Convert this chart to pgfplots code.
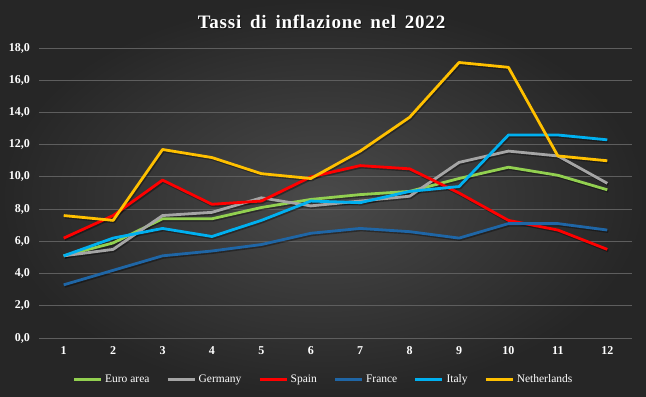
\documentclass[border=0pt]{standalone}
\usepackage{pgfplots}
\pgfplotsset{compat=1.18}
\usepackage{fontspec}
\setmainfont{Liberation Serif}
\newfontfamily\titlefont[LetterSpace=4.0, WordSpace=1.6]{Liberation Serif}
\definecolor{bgin}{HTML}{4A4A4A}
\definecolor{bgout}{HTML}{262626}
\definecolor{gridc}{HTML}{5E5E5E}
\definecolor{cEuro}{HTML}{92D050}
\definecolor{cGer}{HTML}{A5A5A5}
\definecolor{cSpa}{HTML}{FF0000}
\definecolor{cFra}{HTML}{1F66A6}
\definecolor{cIta}{HTML}{00B0F0}
\definecolor{cNed}{HTML}{FFC000}
\pgfplotstableread{
m euro ger spa fra ita ned
1 5.1 5.1 6.2 3.3 5.1 7.6
2 5.9 5.5 7.6 4.2 6.2 7.3
3 7.4 7.6 9.8 5.1 6.8 11.7
4 7.4 7.8 8.3 5.4 6.3 11.2
5 8.1 8.7 8.5 5.8 7.3 10.2
6 8.6 8.2 10.0 6.5 8.5 9.9
7 8.9 8.5 10.7 6.8 8.4 11.6
8 9.1 8.8 10.5 6.6 9.1 13.7
9 9.9 10.9 9.0 6.2 9.4 17.1
10 10.6 11.6 7.3 7.1 12.6 16.8
11 10.1 11.3 6.7 7.1 12.6 11.3
12 9.2 9.6 5.5 6.7 12.3 11.0
}\datatable
\begin{document}
\begin{tikzpicture}
\shade[inner color=bgin, outer color=bgout] (-39bp,-59bp) rectangle (607bp,338bp);
\node[text=black, opacity=0.5, font=\fontsize{19bp}{21bp}\titlefont\bfseries] at (283.5bp,315bp) {Tassi di inflazione nel 2022};
\node[text=white, font=\fontsize{19bp}{21bp}\titlefont\bfseries] at (282.5bp,316bp) {Tassi di inflazione nel 2022};
\begin{axis}[
  at={(0,0)}, anchor=south west,
  scale only axis, width=593bp, height=290bp,
  xmin=0.5, xmax=12.5, ymin=0, ymax=18,
  xtick={1,...,12}, ytick={0,2,...,18},
  axis line style={draw=none},
  major tick length=0pt,
  ymajorgrids, grid style={gridc, line width=0.8bp},
  tick label style={text=white, font=\fontsize{12bp}{14bp}\selectfont\bfseries},
  yticklabel style={inner sep=0pt, xshift=-9bp, anchor=east,
    /pgf/number format/.cd, fixed, fixed zerofill, precision=1, use comma, assume math mode=true},
  xticklabel style={inner sep=0pt, anchor=north, yshift=-8bp,
    /pgf/number format/assume math mode=true},
  legend style={draw=none, fill=none, text=white, font=\fontsize{11.5bp}{13bp}\selectfont,
    at={(0.48,-0.143)}, anchor=center, legend columns=6,
    /tikz/every even column/.append style={column sep=15bp},
    /tikz/every odd column/.append style={column sep=1bp}},
  legend image code/.code={\draw[#1, line width=2.2bp] (0bp,0bp) -- (27bp,0bp);},
  every axis plot/.append style={line width=2.8bp, line join=round, no marks},
]
\foreach \c in {euro,ger,spa,fra,ita,ned}{
  \addplot[black, opacity=0.35, xshift=1bp, yshift=-1.5bp, forget plot] table[x=m, y=\c] {\datatable};
}
\addplot[cEuro] table[x=m, y=euro] {\datatable};
\addlegendentry{Euro area}
\addplot[cGer] table[x=m, y=ger] {\datatable};
\addlegendentry{Germany}
\addplot[cSpa] table[x=m, y=spa] {\datatable};
\addlegendentry{Spain}
\addplot[cFra] table[x=m, y=fra] {\datatable};
\addlegendentry{France}
\addplot[cIta] table[x=m, y=ita] {\datatable};
\addlegendentry{Italy}
\addplot[cNed] table[x=m, y=ned] {\datatable};
\addlegendentry{Netherlands}
\end{axis}
\pgfresetboundingbox
\path[use as bounding box] (-39bp,-59bp) rectangle (607bp,338bp);
\end{tikzpicture}
\end{document}
